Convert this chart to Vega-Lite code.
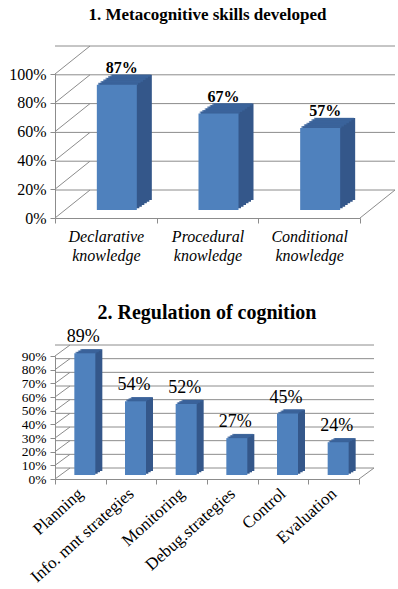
{
  "$schema": "https://vega.github.io/schema/vega-lite/v6.json",
  "autosize": {"type": "pad"},
  "padding": {"left": 8, "top": 5, "right": 0, "bottom": 0},
  "bounds": "flush",
  "spacing": 138,
  "background": "white",
  "config": {
    "view": {"stroke": null},
    "font": "Liberation Serif",
    "text": {"font": "Liberation Serif"},
    "axis": {"domainColor": "#8c8c8c", "tickColor": "#8c8c8c", "labelColor": "#000000", "grid": false, "title": null, "labelFont": "Liberation Serif", "labelOverlap": false}
  },
  "datasets": {
    "skills": [
      {"skill": "Declarative knowledge", "value": 0.87},
      {"skill": "Procedural knowledge", "value": 0.67},
      {"skill": "Conditional knowledge", "value": 0.57}
    ],
    "reg": [
      {"area": "Planning", "value": 0.89},
      {"area": "Info. mnt strategies", "value": 0.54},
      {"area": "Monitoring", "value": 0.52},
      {"area": "Debug.strategies", "value": 0.27},
      {"area": "Control", "value": 0.45},
      {"area": "Evaluation", "value": 0.24}
    ],
    "grid1": [{"value": 0}, {"value": 0.2}, {"value": 0.4}, {"value": 0.6}, {"value": 0.8}, {"value": 1.0}],
    "grid2": [{"value": 0}, {"value": 0.1}, {"value": 0.2}, {"value": 0.3}, {"value": 0.4}, {"value": 0.5}, {"value": 0.6}, {"value": 0.7}, {"value": 0.8}, {"value": 0.9}]
  },
  "vconcat": [
    {
      "width": 305,
      "height": 144,
      "title": {"text": "1. Metacognitive skills developed", "font": "Liberation Serif", "fontSize": 17, "fontWeight": "bold", "color": "#000000", "anchor": "middle", "offset": 22},
      "encoding": {
        "y": {"field": "value", "type": "quantitative", "scale": {"domain": [0, 1], "nice": false},
          "axis": {"values": [0, 0.2, 0.4, 0.6, 0.8, 1.0], "format": ".0%", "labelFont": "Liberation Serif", "labelFontSize": 16, "tickSize": 5, "labelPadding": 4}}
      },
      "layer": [
        {
          "data": {"name": "grid1"},
          "mark": {"type": "rule", "color": "#8c8c8c", "xOffset": 35, "yOffset": -28}
        },
        {
          "data": {"name": "grid1"},
          "mark": {"type": "rule", "color": "#8c8c8c", "y2Offset": -28},
          "encoding": {"x": {"value": 0}, "x2": {"value": 35}, "y2": {"field": "value"}}
        },
        {
          "data": {"name": "grid1"},
          "transform": [{"filter": "datum.value == 0"}],
          "mark": {"type": "rule", "color": "#8c8c8c", "y2Offset": -28},
          "encoding": {"x": {"value": 305}, "x2": {"value": 340}, "y2": {"field": "value"}}
        },
        {
          "data": {"name": "skills"},
          "encoding": {
            "x": {"field": "skill", "type": "nominal", "sort": null, "scale": {"paddingInner": 0, "paddingOuter": 0},
              "axis": {"labelExpr": "split(datum.label, ' ')", "labelFont": "Liberation Serif", "labelFontStyle": "italic", "labelFontSize": 16, "labelAngle": 0, "tickBand": "extent", "tickSize": 5, "labelPadding": 5, "labelLineHeight": 19, "labelBaseline": "top"}}
          },
          "layer": [
            {"mark": {"type": "bar", "width": 40, "color": "#34578a", "xOffset": 13.5, "yOffset": -9.67}},
            {"mark": {"type": "bar", "width": 40, "color": "#34578a", "xOffset": 16, "yOffset": -11.33}},
            {"mark": {"type": "bar", "width": 40, "color": "#34578a", "xOffset": 18.5, "yOffset": -13}},
            {"mark": {"type": "bar", "width": 40, "color": "#34578a", "xOffset": 21, "yOffset": -14.67}},
            {"mark": {"type": "bar", "width": 40, "color": "#34578a", "xOffset": 23.5, "yOffset": -16.33}},
            {"mark": {"type": "bar", "width": 40, "color": "#34578a", "xOffset": 26, "yOffset": -18}},
            {"mark": {"type": "tick", "size": 40, "thickness": 2.2, "color": "#3d67a0", "xOffset": 12.25, "yOffset": -8.83}},
            {"mark": {"type": "tick", "size": 40, "thickness": 2.2, "color": "#3d67a0", "xOffset": 14.75, "yOffset": -10.5}},
            {"mark": {"type": "tick", "size": 40, "thickness": 2.2, "color": "#3d67a0", "xOffset": 17.25, "yOffset": -12.17}},
            {"mark": {"type": "tick", "size": 40, "thickness": 2.2, "color": "#3d67a0", "xOffset": 19.75, "yOffset": -13.83}},
            {"mark": {"type": "tick", "size": 40, "thickness": 2.2, "color": "#3d67a0", "xOffset": 22.25, "yOffset": -15.5}},
            {"mark": {"type": "tick", "size": 40, "thickness": 2.2, "color": "#3d67a0", "xOffset": 24.75, "yOffset": -17.17}},
            {"mark": {"type": "bar", "width": 40, "color": "#4f81bd", "xOffset": 11, "yOffset": -8}},
            {
              "mark": {"type": "text", "font": "Liberation Serif", "fontSize": 16, "fontWeight": "bold", "color": "#000000", "baseline": "alphabetic", "xOffset": 16, "yOffset": -20},
              "encoding": {"text": {"field": "value", "type": "quantitative", "format": ".0%"}}
            }
          ]
        }
      ]
    },
    {
      "width": 304,
      "height": 123,
      "title": {"text": "2. Regulation of cognition", "font": "Liberation Serif", "fontSize": 20, "fontWeight": "bold", "color": "#000000", "anchor": "middle", "offset": 5},
      "encoding": {
        "y": {"field": "value", "type": "quantitative", "scale": {"domain": [0, 0.9], "nice": false},
          "axis": {"values": [0, 0.1, 0.2, 0.3, 0.4, 0.5, 0.6, 0.7, 0.8, 0.9], "format": ".0%", "labelFont": "Liberation Serif", "labelFontSize": 13.5, "tickSize": 5, "labelPadding": 4}}
      },
      "layer": [
        {
          "data": {"name": "grid2"},
          "mark": {"type": "rule", "color": "#8c8c8c", "xOffset": 15, "yOffset": -11}
        },
        {
          "data": {"name": "grid2"},
          "mark": {"type": "rule", "color": "#8c8c8c", "y2Offset": -11},
          "encoding": {"x": {"value": 0}, "x2": {"value": 15}, "y2": {"field": "value"}}
        },
        {
          "data": {"name": "grid2"},
          "transform": [{"filter": "datum.value == 0"}],
          "mark": {"type": "rule", "color": "#8c8c8c", "y2Offset": -11},
          "encoding": {"x": {"value": 304}, "x2": {"value": 319}, "y2": {"field": "value"}}
        },
        {
          "data": {"name": "reg"},
          "encoding": {
            "x": {"field": "area", "type": "nominal", "sort": null, "scale": {"paddingInner": 0, "paddingOuter": 0},
              "axis": {"labelFont": "Liberation Serif", "labelFontSize": 17, "labelAngle": -42, "labelAlign": "right", "labelBaseline": "middle", "tickBand": "extent", "tickSize": 5, "labelPadding": 7}}
          },
          "layer": [
            {"mark": {"type": "bar", "width": 21, "color": "#34578a", "xOffset": 6.83, "yOffset": -5.33}},
            {"mark": {"type": "bar", "width": 21, "color": "#34578a", "xOffset": 9.17, "yOffset": -6.67}},
            {"mark": {"type": "bar", "width": 21, "color": "#34578a", "xOffset": 11.5, "yOffset": -8}},
            {"mark": {"type": "tick", "size": 21, "thickness": 1.8, "color": "#3d67a0", "xOffset": 5.67, "yOffset": -4.67}},
            {"mark": {"type": "tick", "size": 21, "thickness": 1.8, "color": "#3d67a0", "xOffset": 8, "yOffset": -6}},
            {"mark": {"type": "tick", "size": 21, "thickness": 1.8, "color": "#3d67a0", "xOffset": 10.33, "yOffset": -7.33}},
            {"mark": {"type": "bar", "width": 21, "color": "#4f81bd", "xOffset": 4.5, "yOffset": -4}},
            {
              "mark": {"type": "text", "font": "Liberation Serif", "fontSize": 18, "color": "#000000", "baseline": "alphabetic", "xOffset": 3, "yOffset": -15},
              "encoding": {"text": {"field": "value", "type": "quantitative", "format": ".0%"}}
            }
          ]
        }
      ]
    }
  ]
}
